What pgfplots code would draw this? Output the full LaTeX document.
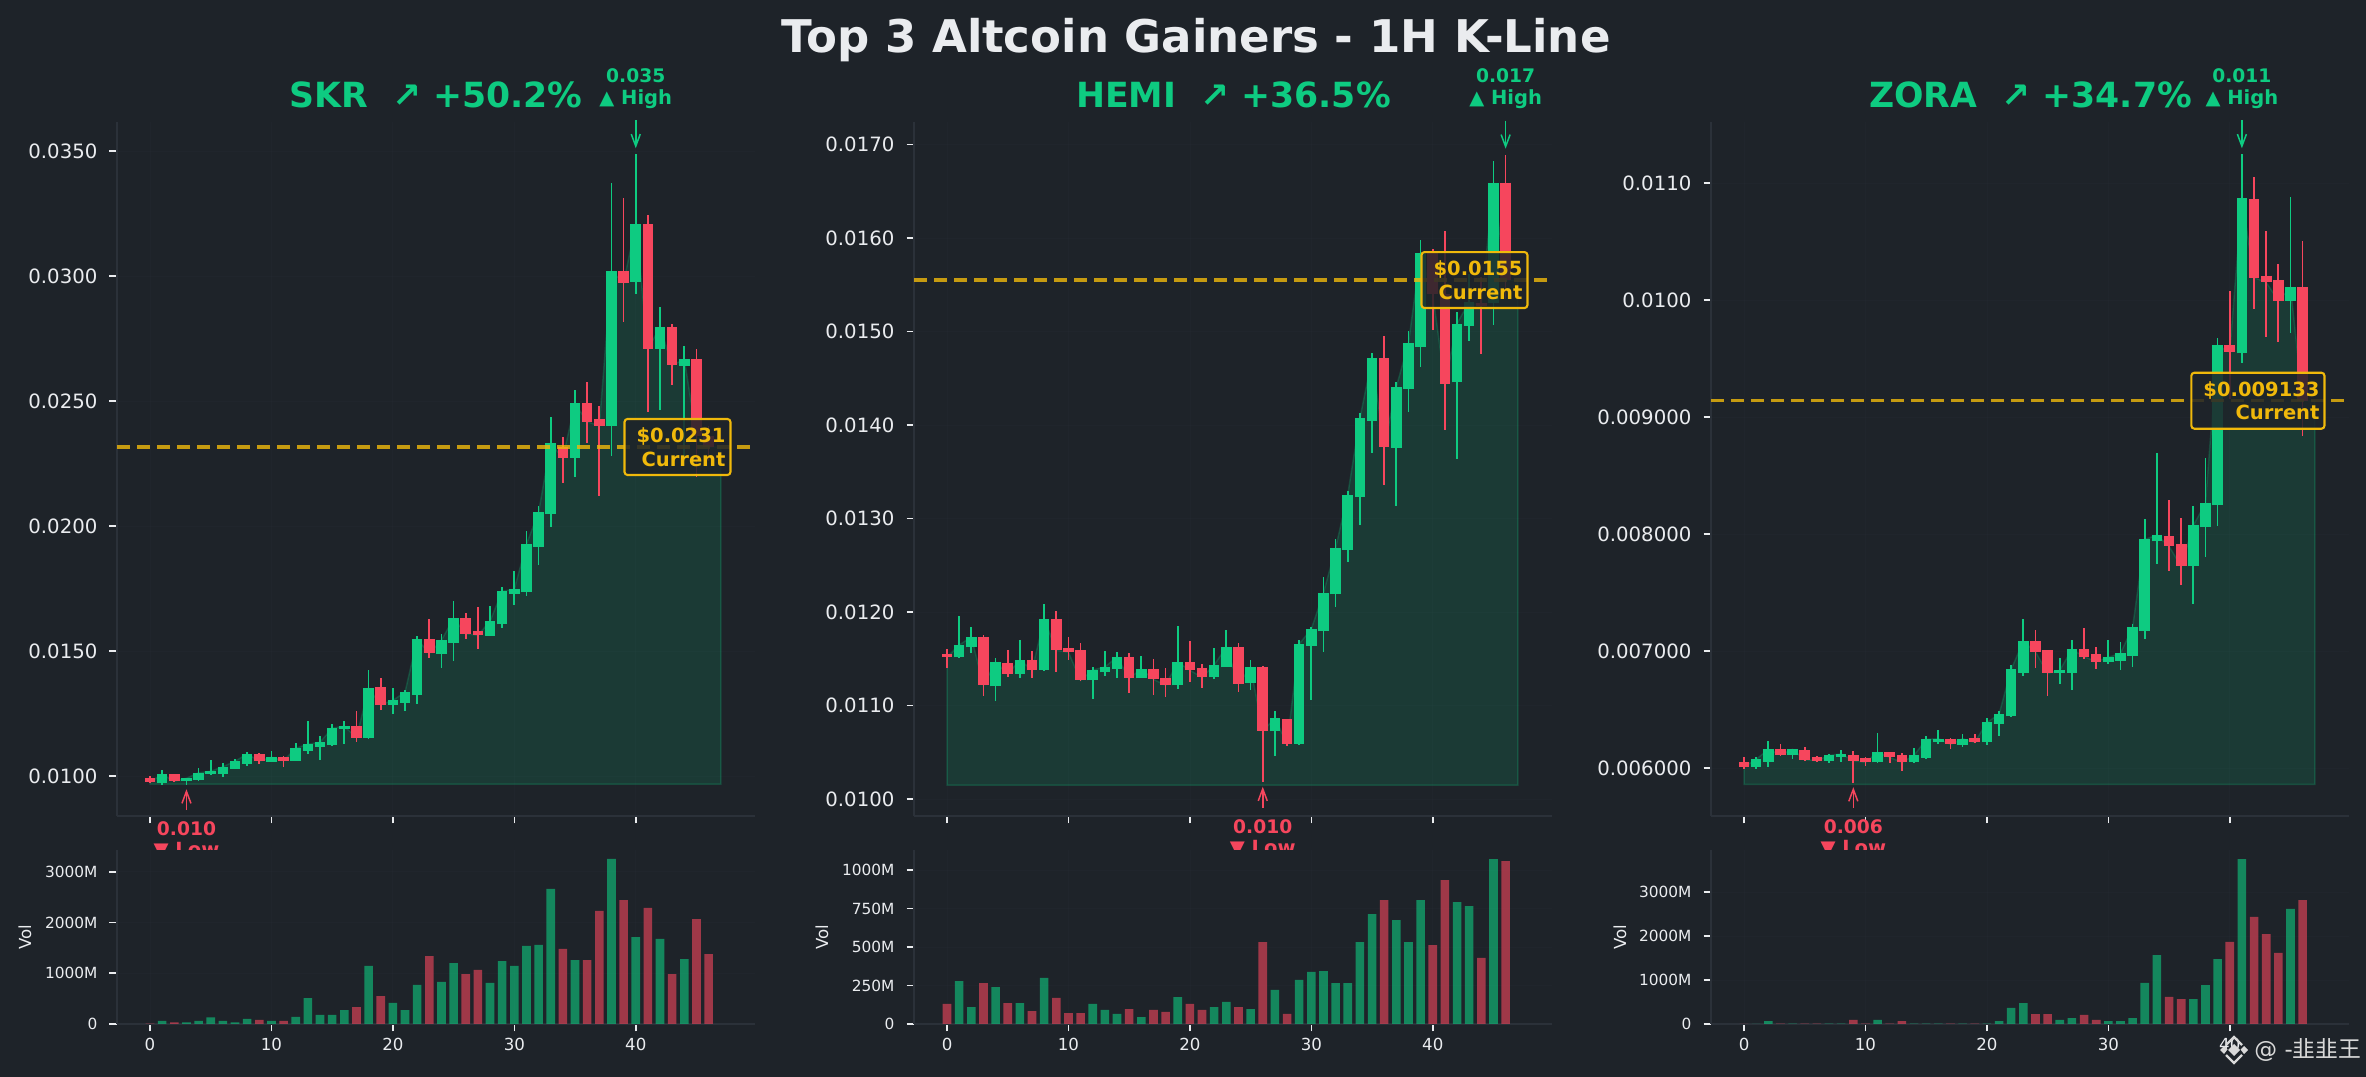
\documentclass[border=0pt]{standalone}
\usepackage{fontspec}
\setmainfont{DejaVu Sans}
\newfontfamily\cjk{Noto Sans CJK SC}
\usepackage{pgfplots}
\usepackage{pgfplotstable}
\pgfplotsset{compat=1.18}
\usetikzlibrary{arrows.meta}
\definecolor{bg}{HTML}{1E2329}
\definecolor{upc}{HTML}{0ECB81}
\definecolor{downc}{HTML}{F6465D}
\definecolor{gold}{HTML}{F0B90B}
\definecolor{spine}{HTML}{2B3139}
\definecolor{txt}{HTML}{EAECEF}
\def\px{0.48bp}

% x open high low close volume(M)
\pgfplotstableread{
x o h l c v
0 .00991 .00999 .00971 .00975 5
1 .00973 .01023 .00965 .01007 60
2 .01007 .01008 .00978 .00979 30
3 .00980 .00992 .00965 .00991 30
4 .00983 .01031 .00981 .01013 60
5 .01007 .01063 .01005 .01019 130
6 .01009 .01051 .00997 .01037 60
7 .01029 .01067 .01027 .01059 30
8 .01049 .01095 .01041 .01088 100
9 .01087 .01091 .01049 .01060 80
10 .01057 .01099 .01057 .01075 60
11 .01075 .01080 .01035 .01061 60
12 .01061 .01131 .01061 .01111 140
13 .01101 .01219 .01089 .01127 510
14 .01117 .01159 .01065 .01135 180
15 .01125 .01207 .01121 .01191 180
16 .01188 .01219 .01129 .01199 275
17 .01199 .01259 .01137 .01153 335
18 .01153 .01423 .01149 .01351 1145
19 .01355 .01391 .01265 .01285 550
20 .01285 .01351 .01249 .01303 415
21 .01293 .01343 .01261 .01335 275
22 .01325 .01559 .01289 .01547 770
23 .01547 .01627 .01473 .01491 1340
24 .01489 .01567 .01433 .01543 830
25 .01533 .01699 .01461 .01631 1200
26 .01631 .01651 .01549 .01569 985
27 .01579 .01675 .01509 .01563 1065
28 .01561 .01679 .01561 .01619 810
29 .01609 .01755 .01593 .01739 1240
30 .01727 .01819 .01685 .01747 1145
31 .01737 .01979 .01721 .01927 1540
32 .01917 .02079 .01845 .02055 1560
33 .02047 .02435 .01997 .02330 2665
34 .02315 .02355 .02173 .02273 1480
35 .02273 .02543 .02197 .02490 1260
36 .02490 .02575 .02330 .02417 1260
37 .02427 .02479 .02119 .02401 2230
38 .02401 .03370 .02280 .03019 3255
39 .03019 .03310 .02817 .02973 2445
40 .02977 .03487 .02929 .03207 1715
41 .03207 .03244 .02457 .02709 2290
42 .02709 .02875 .02465 .02795 1680
43 .02795 .02807 .02565 .02643 985
44 .02641 .02719 .02280 .02667 1280
45 .02667 .02707 .02195 .02360 2070
46 .02360 .02400 .02260 .02316 1380
}\dataA

\pgfplotstableread{
x o h l c v
0 .011552 .011606 .011399 .011517 130
1 .011517 .011958 .011509 .011648 279
2 .011623 .011841 .011559 .011734 110
3 .011734 .011755 .011100 .011217 266
4 .011207 .011509 .011046 .011467 240
5 .011456 .011595 .011303 .011338 136
6 .011338 .011702 .011292 .011488 136
7 .011488 .011584 .011292 .011381 84
8 .011381 .012087 .011367 .011926 299
9 .011926 .012012 .011356 .011591 169
10 .011616 .011734 .011488 .011570 71
11 .011595 .011670 .011260 .011271 71
12 .011271 .011413 .011068 .011381 130
13 .011356 .011584 .011313 .011413 91
14 .011392 .011574 .011292 .011520 65
15 .011520 .011563 .011132 .011292 97
16 .011292 .011531 .011292 .011392 45
17 .011392 .011499 .011110 .011281 91
18 .011296 .011403 .011089 .011217 78
19 .011217 .011851 .011175 .011467 175
20 .011467 .011691 .011249 .011378 130
21 .011403 .011442 .011185 .011303 91
22 .011303 .011616 .011281 .011435 110
23 .011410 .011809 .011410 .011627 143
24 .011627 .011670 .011143 .011232 110
25 .011242 .011488 .011164 .011413 97
26 .011413 .011420 .010181 .010726 532
27 .010726 .010943 .010458 .010868 221
28 .010858 .010862 .010569 .010590 65
29 .010590 .011702 .010580 .011659 286
30 .011638 .011841 .011057 .011819 338
31 .011794 .012375 .011570 .012204 344
32 .012190 .012781 .012051 .012685 266
33 .012664 .013294 .012532 .013255 266
34 .013235 .014125 .012927 .014071 532
35 .014046 .014765 .013705 .014712 714
36 .014712 .014947 .013356 .013769 805
37 .013758 .014456 .013134 .014409 675
38 .014388 .015007 .014142 .014872 532
39 .014836 .015982 .014616 .015843 805
40 .015840 .015886 .015021 .015400 513
41 .015400 .016078 .013943 .014441 935
42 .014456 .015206 .013633 .015085 792
43 .015060 .015620 .014900 .015317 766
44 .015305 .015580 .014762 .015270 429
45 .015310 .016826 .015071 .016591 1071
46 .016591 .016890 .015350 .015550 1058
}\dataB

\pgfplotstableread{
x o h l c v
0 .006048 .006091 .005994 .006011 5
1 .006011 .006091 .005994 .006074 5
2 .006054 .006231 .006011 .006160 68
3 .006160 .006205 .006105 .006114 8
4 .006114 .006165 .006080 .006160 8
5 .006151 .006177 .006063 .006071 8
6 .006097 .006105 .006057 .006063 8
7 .006063 .006120 .006046 .006108 8
8 .006094 .006154 .006054 .006120 8
9 .006108 .006145 .005875 .006063 91
10 .006083 .006091 .006020 .006048 8
11 .006048 .006296 .006046 .006134 91
12 .006134 .006140 .006046 .006091 8
13 .006108 .006125 .005977 .006048 68
14 .006048 .006168 .006046 .006108 8
15 .006088 .006274 .006080 .006245 8
16 .006219 .006322 .006208 .006251 8
17 .006251 .006255 .006165 .006202 8
18 .006199 .006288 .006182 .006251 8
19 .006254 .006288 .006211 .006219 8
20 .006225 .006425 .006199 .006390 8
21 .006373 .006484 .006276 .006459 68
22 .006442 .006877 .006436 .006843 364
23 .006815 .007271 .006789 .007083 477
24 .007083 .007177 .006858 .006994 227
25 .007006 .007010 .006618 .006809 227
26 .006809 .006937 .006721 .006835 91
27 .006815 .007091 .006670 .007014 136
28 .007014 .007194 .006934 .006952 205
29 .006972 .007031 .006849 .006909 91
30 .006903 .007091 .006892 .006946 68
31 .006917 .007074 .006840 .006980 68
32 .006960 .007228 .006866 .007202 136
33 .007174 .008125 .007105 .007954 932
34 .007937 .008689 .007746 .007989 1568
35 .007980 .008288 .007681 .007895 614
36 .007912 .008134 .007561 .007724 568
37 .007724 .008236 .007405 .008074 568
38 .008057 .008647 .007800 .008262 886
39 .008245 .009672 .008071 .009613 1477
40 .009613 .010074 .009150 .009553 1864
41 .009544 .011245 .009464 .010869 3750
42 .010860 .011048 .009920 .010191 2432
43 .010208 .010587 .009687 .010151 2045
44 .010168 .010305 .009644 .009994 1614
45 .009994 .010880 .009721 .010108 2614
46 .010108 .010501 .008840 .009139 2818
}\dataC

\pgfplotsset{
  panel/.style={
    scale only axis, anchor=south west,
    xmin=-2.72, xmax=49.82,
    axis x line*=bottom, axis y line*=left,
    axis line style={color=spine, line width=1.8*\px},
    tick align=outside, major tick length=7.5*\px,
    tick style={color=txt, line width=1.6*\px},
    xtick={0,10,20,30,40},
    scaled y ticks=false,
    grid=major, grid style={color=spine, line width=0.8*\px, opacity=.2},
    yticklabel style={text=txt, inner sep=5.6bp},
    xticklabel style={text=txt, inner sep=3.2bp, font=\fontsize{8}{9}\selectfont},
  },
  main/.style={panel, width=638*\px, height=694*\px, clip=false,
    xticklabels={}, yticklabel style={font=\fontsize{9.5}{11}\selectfont}},
  vol/.style={panel, width=638*\px, height=174*\px, ymin=0,
    axis background/.style={fill=bg},
    ybar, bar width=8.6*\px, /pgf/bar shift=0pt,
    xticklabels={0,10,20,30,40},
    yticklabel style={font=\fontsize{7.4}{9}\selectfont}},
  wickup/.style={draw=none, mark=none, forget plot, error bars/.cd, y dir=both, y explicit, error mark=none,
    error bar style={color=upc, line width=1.7*\px}},
  wickdn/.style={draw=none, mark=none, forget plot, error bars/.cd, y dir=both, y explicit, error mark=none,
    error bar style={color=downc, line width=1.7*\px}},
  bodyup/.style={draw=none, mark=none, forget plot, error bars/.cd, y dir=both, y explicit, error mark=none,
    error bar style={color=upc, line width=10.6*\px}},
  bodydn/.style={draw=none, mark=none, forget plot, error bars/.cd, y dir=both, y explicit, error mark=none,
    error bar style={color=downc, line width=10.6*\px}},
}

\newcommand\mainplots[3]{%
  \addplot[fill=upc, fill opacity=.14, draw=upc, draw opacity=.22, line width=1.5*\px, forget plot]
    table[x=x,y=c]{#1} -- (axis cs:47,#2) -- (axis cs:47,#3) -- (axis cs:0,#3) -- cycle;
  \addplot[wickup] table[x=x, y expr={\thisrow{c}>=\thisrow{o} ? \thisrow{c} : nan},
     y error plus expr={\thisrow{h}-\thisrow{c}}, y error minus expr={\thisrow{c}-\thisrow{l}}]{#1};
  \addplot[wickdn] table[x=x, y expr={\thisrow{c}<\thisrow{o} ? \thisrow{c} : nan},
     y error plus expr={\thisrow{h}-\thisrow{c}}, y error minus expr={\thisrow{c}-\thisrow{l}}]{#1};
  \addplot[bodyup] table[x=x, y expr={\thisrow{c}>=\thisrow{o} ? \thisrow{o} : nan},
     y error plus expr={\thisrow{c}-\thisrow{o}}, y error minus expr={0}]{#1};
  \addplot[bodydn] table[x=x, y expr={\thisrow{c}<\thisrow{o} ? \thisrow{o} : nan},
     y error plus expr={0}, y error minus expr={\thisrow{o}-\thisrow{c}}]{#1};
  \addplot[gold, opacity=.8, line width=3.2*\px, dash pattern=on 13*\px off 7*\px, forget plot]
     coordinates {(-2.72,#2)(49.82,#2)};
}
\newcommand\volplots[1]{%
  \addplot[fill=upc, fill opacity=.6, draw=none, forget plot]
     table[x=x, y expr={\thisrow{c}>=\thisrow{o} ? \thisrow{v} : nan}]{#1};
  \addplot[fill=downc, fill opacity=.6, draw=none, forget plot]
     table[x=x, y expr={\thisrow{c}<\thisrow{o} ? \thisrow{v} : nan}]{#1};
}
\newcommand\notes[8]{% hx hv htxt lx lv ltxt current-value current-label
  \draw[upc, line width=1.5*\px, -{Straight Barb[length=12*\px,width=9*\px]}]
     ([yshift=34*\px]axis cs:#1,#2) -- ([yshift=6*\px]axis cs:#1,#2);
  \node[anchor=base, text=upc, inner sep=0pt, font=\bfseries\fontsize{9}{10}\selectfont] at ([yshift=72*\px]axis cs:#1,#2) {#3};
  \node[anchor=base, text=upc, inner sep=0pt, font=\bfseries\fontsize{9.4}{10}\selectfont] at ([yshift=50*\px]axis cs:#1,#2) {▲ High};
  \draw[downc, line width=1.5*\px, -{Straight Barb[length=12*\px,width=9*\px]}]
     ([yshift=-25.5*\px]axis cs:#4,#5) -- ([yshift=-4.5*\px]axis cs:#4,#5);
  \node[anchor=base, text=downc, inner sep=0pt, font=\bfseries\fontsize{9}{10}\selectfont] at ([yshift=-51*\px]axis cs:#4,#5) {#6};
  \node[anchor=base, text=downc, inner sep=0pt, font=\bfseries\fontsize{9.4}{10}\selectfont] at ([yshift=-72*\px]axis cs:#4,#5) {▼ Low};
  \node[anchor=east, align=right, text=gold, draw=gold, line width=2.1*\px, rounded corners=3*\px,
     fill=bg, fill opacity=.85, text opacity=1, inner xsep=5*\px, inner ysep=8.5*\px,
     font=\bfseries\fontsize{9.4}{11.5}\selectfont]
     at ([xshift=-23.5*\px]axis cs:49.82,#7) {\hspace*{3.4bp}\$#8\\Current};
}

\begin{document}
\begin{tikzpicture}
\useasboundingbox (0,0) rectangle (2366*\px,1077*\px);
\fill[bg] (0,0) rectangle (2366*\px,1077*\px);

% ---------- SKR
\begin{axis}[main, at={(117*\px,261*\px)}, ymin=.0084, ymax=.03616,
  ytick={.01,.015,.02,.025,.03,.035},
  yticklabels={0.0100,0.0150,0.0200,0.0250,0.0300,0.0350}]
\mainplots{\dataA}{0.02316}{.00967}
\notes{40}{.03487}{0.035}{3}{.00965}{0.010}{0.02316}{0.0231}
\end{axis}
\begin{axis}[vol, at={(117*\px,53*\px)}, ymax=3432,
  ytick={0,1000,2000,3000}, yticklabels={0,1000M,2000M,3000M}]
\volplots{\dataA}
\end{axis}

% ---------- HEMI
\begin{axis}[main, at={(914*\px,261*\px)}, ymin=.00982, ymax=.01724,
  ytick={.010,.011,.012,.013,.014,.015,.016,.017},
  yticklabels={0.0100,0.0110,0.0120,0.0130,0.0140,0.0150,0.0160,0.0170}]
\mainplots{\dataB}{0.01555}{.01015}
\notes{46}{.01689}{0.017}{26}{.010181}{0.010}{0.01555}{0.0155}
\end{axis}
\begin{axis}[vol, at={(914*\px,53*\px)}, ymax=1131,
  ytick={0,250,500,750,1000}, yticklabels={0,250M,500M,750M,1000M}]
\volplots{\dataB}
\end{axis}

% ---------- ZORA
\begin{axis}[main, at={(1711*\px,261*\px)}, ymin=.00559, ymax=.011521,
  ytick={.006,.007,.008,.009,.010,.011},
  yticklabels={0.006000,0.007000,0.008000,0.009000,0.0100,0.0110}]
\mainplots{\dataC}{0.009139}{.00586}
\notes{41}{.011245}{0.011}{9}{.005875}{0.006}{0.009139}{0.009133}
\end{axis}
\begin{axis}[vol, at={(1711*\px,53*\px)}, ymax=3955,
  ytick={0,1000,2000,3000}, yticklabels={0,1000M,2000M,3000M}]
\volplots{\dataC}
\end{axis}

% ---------- titles
\node[anchor=base, inner sep=0pt, text=txt, font=\bfseries\fontsize{21.7}{26}\selectfont]
  at (1196*\px,1024*\px) {Top 3 Altcoin Gainers - 1H K-Line};
\foreach \cx/\t in {436/{SKR\ \ ↗ +50.2\%},1233.5/{HEMI\ \ ↗ +36.5\%},2030.5/{ZORA\ \ ↗ +34.7\%}}{
  \node[anchor=base, inner sep=0pt, text=upc, font=\bfseries\fontsize{16.7}{19}\selectfont]
    at (\cx*\px,969*\px) {\t};
}
\foreach \vx in {25,822,1620}{
  \node[rotate=90, inner sep=0pt, text=txt, font=\fontsize{8}{9}\selectfont] at (\vx*\px,140*\px) {Vol};
}

% ---------- watermark
\begin{scope}[shift={(2234*\px,27*\px)}, x=\px, y=\px, color=white!85!black]
  \fill (0,6) -- (6,0) -- (0,-6) -- (-6,0) -- cycle;
  \draw[line width=2.2*\px] (-8,5) -- (0,13) -- (8,5) (-8,-5) -- (0,-13) -- (8,-5);
  \fill (-14,0) -- (-10,4) -- (-6.5,0.5) -- (-10,-4) -- cycle;
  \fill (14,0) -- (10,4) -- (6.5,0.5) -- (10,-4) -- cycle;
\end{scope}
\node[anchor=west, inner sep=0pt, text=white!85!black, font=\fontsize{11}{13}\selectfont]
  at (2254*\px,27*\px) {@ -{\cjk 韭韭王}};
\end{tikzpicture}
\end{document}
